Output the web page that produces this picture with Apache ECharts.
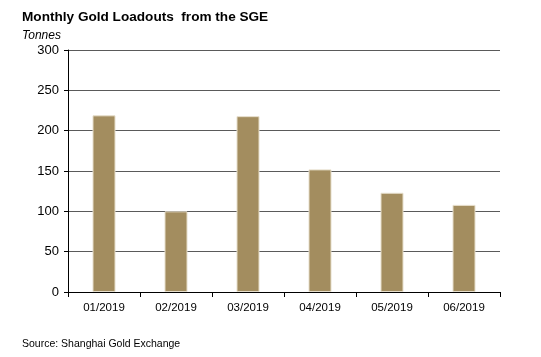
<!DOCTYPE html>
<html><head><meta charset="utf-8">
<script src="https://cdn.jsdelivr.net/npm/echarts@6/dist/echarts.min.js"></script>
<style>html,body{margin:0;padding:0;background:#fff}#c{width:541px;height:357px}</style>
</head><body><div id="c"></div>
<script>
const categories = ['01/2019','02/2019','03/2019','04/2019','05/2019','06/2019'];
const loadouts = [219, 100, 218, 152, 123, 108];
const yTicks = [0, 50, 100, 150, 200, 250, 300];

const chart = echarts.init(document.getElementById('c'), null, {renderer:'canvas'});
const F = '"Liberation Sans", Arial, sans-serif';
chart.setOption({
  animation: false,
  backgroundColor: '#fff',
  title: [
    {text: 'Monthly Gold Loadouts  from the SGE', left: 22, top: 10, padding: 0,
     textStyle: {fontFamily: F, fontSize: 13.6, fontWeight: 'bold', color: '#000'}},
    {text: 'Tonnes', left: 22, top: 30, padding: 0,
     textStyle: {fontFamily: F, fontSize: 12, fontStyle: 'italic', fontWeight: 'normal', color: '#000'}},
    {text: 'Source: Shanghai Gold Exchange', left: 22, top: 339, padding: 0,
     textStyle: {fontFamily: F, fontSize: 10.5, fontWeight: 'normal', color: '#000'}}
  ],
  grid: {left: 68, right: 41, top: 50, bottom: 65},
  xAxis: {
    type: 'category', data: categories,
    axisLine: {lineStyle: {color: '#000', width: 1}},
    axisTick: {show: true, length: 5, lineStyle: {color: '#000'}},
    axisLabel: {fontFamily: F, fontSize: 11.5, color: '#000', margin: 10}
  },
  yAxis: {
    type: 'value', min: yTicks[0], max: yTicks[yTicks.length-1], interval: 50,
    axisLine: {show: true, lineStyle: {color: '#000', width: 1}},
    axisTick: {show: true, length: 4, lineStyle: {color: '#000'}},
    axisLabel: {fontFamily: F, fontSize: 13, color: '#000', margin: 9},
    splitLine: {show: true, lineStyle: {color: '#5a5a5a', width: 1}}
  },
  series: [{
    type: 'bar', data: loadouts, barWidth: 23,
    itemStyle: {color: '#A38D5F', borderColor: '#E6DECB', borderWidth: 1}
  }]
});
</script></body></html>
